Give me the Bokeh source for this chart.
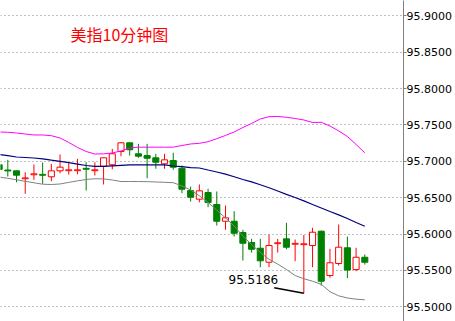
from bokeh.plotting import figure
from bokeh.models import Range1d, FixedTicker, Label, ColumnDataSource
from bokeh.embed import file_html
from bokeh.resources import INLINE

# ---- data ----
title_text = "美指10分钟图"
opens = [95.6952, 95.6880, 95.6869, 95.6760, 95.6815, 95.6820, 95.6787, 95.6869, 95.6871, 95.6871,
         95.6903, 95.6871, 95.6932, 95.6952, 95.7134, 95.7254, 95.7103, 95.7079, 95.7048, 95.6965,
         95.7011, 95.6905, 95.6598, 95.6479, 95.6571, 95.6406, 95.6176, 95.6176, 95.6021, 95.5884,
         95.5805, 95.5613, 95.5868, 95.5934, 95.5860, 95.5854, 95.5842, 95.6039, 95.5430, 95.5595,
         95.5811, 95.5512, 95.5681]
highs = [95.6965, 95.7020, 95.6872, 95.6850, 95.6956, 95.6983, 95.6965, 95.7093, 95.6974, 95.7034,
         95.6987, 95.6987, 95.7050, 95.7171, 95.7265, 95.7258, 95.7240, 95.7240, 95.7103, 95.7103,
         95.7117, 95.6942, 95.6653, 95.6681, 95.6622, 95.6585, 95.6392, 95.6314, 95.6058, 95.5934,
         95.5934, 95.5993, 95.5932, 95.6154, 95.5925, 95.5987, 95.6086, 95.6048, 95.5797, 95.6131,
         95.5966, 95.5811, 95.5719]
lows = [95.6875, 95.6791, 95.6712, 95.6553, 95.6745, 95.6690, 95.6726, 95.6836, 95.6818, 95.6822,
        95.6598, 95.6805, 95.6681, 95.6891, 95.7070, 95.7079, 95.7048, 95.6767, 95.6897, 95.6897,
        95.6883, 95.6561, 95.6447, 95.6437, 95.6369, 95.6117, 95.6058, 95.5966, 95.5636, 95.5746,
        95.5544, 95.5544, 95.5746, 95.5791, 95.5627, 95.5186, 95.5544, 95.5292, 95.5398, 95.5567,
        95.5395, 95.5489, 95.5581]
closes = [95.6887, 95.6868, 95.6809, 95.6772, 95.6828, 95.6808, 95.6869, 95.6919, 95.6883, 95.6883,
          95.6891, 95.6883, 95.7048, 95.7103, 95.7254, 95.7158, 95.7070, 95.7042, 95.6987, 95.7020,
          95.6919, 95.6616, 95.6506, 95.6594, 95.6433, 95.6176, 95.6223, 95.6011, 95.5874, 95.5791,
          95.5632, 95.5842, 95.5880, 95.5819, 95.5872, 95.5866, 95.6025, 95.5352, 95.5605, 95.5819,
          95.5505, 95.5681, 95.5613]
band_upper = [95.7403, 95.7399, 95.7389, 95.7375, 95.7362, 95.7362, 95.7352, 95.7320, 95.7259, 95.7190,
              95.7135, 95.7100, 95.7103, 95.7114, 95.7142, 95.7183, 95.7194, 95.7194, 95.7194, 95.7194,
              95.7194, 95.7217, 95.7238, 95.7247, 95.7269, 95.7311, 95.7355, 95.7403, 95.7465, 95.7520,
              95.7582, 95.7613, 95.7616, 95.7605, 95.7588, 95.7568, 95.7533, 95.7536, 95.7485, 95.7417,
              95.7341, 95.7231, 95.7117]
band_mid = [95.7094, 95.7077, 95.7059, 95.7052, 95.7045, 95.7034, 95.7015, 95.7000, 95.6981, 95.6962,
            95.6942, 95.6929, 95.6929, 95.6938, 95.6945, 95.6952, 95.6952, 95.6952, 95.6952, 95.6952,
            95.6935, 95.6926, 95.6912, 95.6908, 95.6880, 95.6853, 95.6823, 95.6788, 95.6750, 95.6717,
            95.6677, 95.6637, 95.6592, 95.6546, 95.6502, 95.6456, 95.6406, 95.6358, 95.6310, 95.6263,
            95.6214, 95.6159, 95.6108]
band_lower = [95.6784, 95.6766, 95.6746, 95.6725, 95.6705, 95.6685, 95.6681, 95.6688, 95.6710, 95.6731,
              95.6750, 95.6760, 95.6758, 95.6743, 95.6722, 95.6722, 95.6722, 95.6720, 95.6716, 95.6711,
              95.6706, 95.6661, 95.6606, 95.6526, 95.6434, 95.6328, 95.6221, 95.6111, 95.5973, 95.5856,
              95.5746, 95.5653, 95.5587, 95.5513, 95.5430, 95.5386, 95.5352, 95.5309, 95.5208, 95.5151,
              95.5121, 95.5105, 95.5096]
tick_values = [95.50, 95.55, 95.60, 95.65, 95.70, 95.75, 95.80, 95.85, 95.90]
tick_labels = ["95.5000", "95.5500", "95.6000", "95.6500", "95.7000", "95.7500", "95.8000", "95.8500", "95.9000"]
low_label = "95.5186"
low_index = 35
low_line_x = [31.6, 35]
low_line_y = [95.5261, 95.5186]

idx = list(range(len(opens)))

GREEN = "#008000"
RED = "#ff0000"

p = figure(frame_width=403, frame_height=321,
           x_range=Range1d(0.161, 46.446), y_range=Range1d(95.4798, 95.9210),
           x_axis_location=None, y_axis_location="right",
           toolbar_location=None, output_backend="svg",
           min_border=0, min_border_right=0)
p.outline_line_color = None
p.background_fill_color = "white"
p.border_fill_color = "white"
p.xgrid.visible = False
p.ygrid.ticker = FixedTicker(ticks=tick_values)
p.ygrid.grid_line_color = "#808080"
p.ygrid.grid_line_dash = "1 3"
p.ygrid.grid_line_width = 1

ax = p.yaxis[0]
ax.ticker = FixedTicker(ticks=tick_values)
ax.major_label_overrides = {v: s for v, s in zip(tick_values, tick_labels)}
ax.axis_line_color = "#808080"
ax.major_tick_line_color = "#808080"
ax.major_tick_out = 3
ax.major_tick_in = 0
ax.minor_tick_out = 0
ax.minor_tick_in = 0
ax.major_label_standoff = 0
ax.major_label_text_font = "DejaVu Sans"
ax.major_label_text_font_size = "11px"
ax.major_label_text_color = "#000000"

up = [i for i in idx if closes[i] >= opens[i]]
dn = [i for i in idx if closes[i] < opens[i]]

src_up = ColumnDataSource(dict(x=[idx[i] for i in up], h=[highs[i] for i in up], l=[lows[i] for i in up],
                               top=[closes[i] for i in up], bot=[opens[i] for i in up]))
src_dn = ColumnDataSource(dict(x=[idx[i] for i in dn], h=[highs[i] for i in dn], l=[lows[i] for i in dn],
                               top=[opens[i] for i in dn], bot=[closes[i] for i in dn]))

p.segment(x0="x", y0="h", x1="x", y1="l", source=src_up, line_color=RED, line_width=1)
p.segment(x0="x", y0="h", x1="x", y1="l", source=src_dn, line_color=GREEN, line_width=1)
p.vbar(x="x", top="top", bottom="bot", width=0.7, source=src_up,
       fill_color="white", line_color=RED, line_width=1)
p.vbar(x="x", top="top", bottom="bot", width=0.7, source=src_dn,
       fill_color=GREEN, line_color=GREEN, line_width=1)

p.line(idx, band_upper, line_color="#ff00ff", line_width=1)
p.line(idx, band_mid, line_color="#000080", line_width=1.2)
p.line(idx, band_lower, line_color="#808080", line_width=1)

p.line(low_line_x, low_line_y, line_color="#000000", line_width=1.5)
p.add_layout(Label(x=26.35, y=95.5307, text=low_label, text_font="DejaVu Sans",
                   text_font_size="12px", text_color="#000000", text_baseline="bottom"))

p.add_layout(Label(x=70, y=321 - 33.5, x_units="screen", y_units="screen", text=title_text,
                   text_font="Noto Sans CJK SC", text_font_size="16px", text_color=RED,
                   text_baseline="middle"))

open("out.html", "w").write(file_html(p, INLINE))
